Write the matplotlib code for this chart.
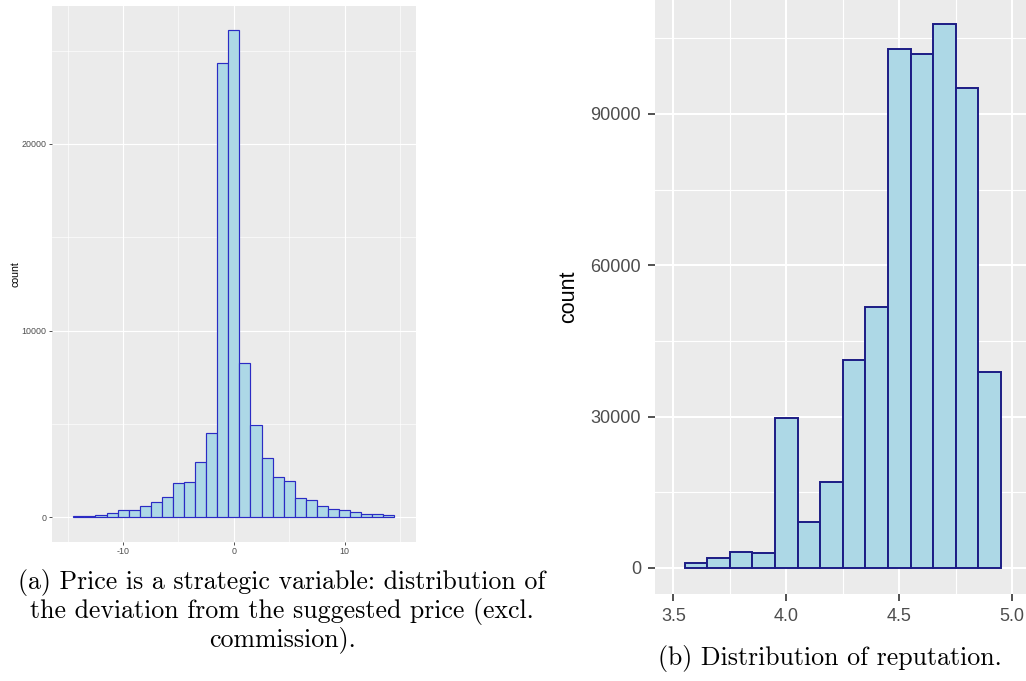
import matplotlib
matplotlib.use("Agg")
import matplotlib.pyplot as plt
from matplotlib.ticker import FixedLocator

# Deviation from suggested price: bin width 1, bins centred on integers
price_centers = list(range(-14, 15))
price_counts = [90, 85, 125, 210, 370, 370, 590, 800, 1075, 1825, 1875, 2980,
                4520, 24320, 26100, 8250, 4960, 3170, 2170, 1960, 1060, 905,
                590, 435, 372, 265, 170, 160, 105]

# Seller reputation: bin width 0.1
rep_centers = [3.6, 3.7, 3.8, 3.9, 4.0, 4.1, 4.2, 4.3, 4.4, 4.5, 4.6, 4.7, 4.8, 4.9]
rep_counts = [880, 2050, 3250, 2930, 29780, 9100, 17100, 41300, 51790,
              102800, 101930, 107720, 95100, 38920]

price_xticks = [-10, 0, 10]
price_xminor = [-15, -5, 5, 15]
price_yticks = [0, 10000, 20000]
price_yminor = [5000, 15000, 25000]

rep_xticks = [3.5, 4.0, 4.5, 5.0]
rep_xminor = [3.75, 4.25, 4.75]
rep_yticks = [0, 30000, 60000, 90000]
rep_yminor = [15000, 45000, 75000, 105000]

caption_a = ["(a) Price is a strategic variable: distribution of",
             "the deviation from the suggested price (excl.",
             "commission)."]
caption_b = "(b) Distribution of reputation."

W, H = 1026, 681
fig = plt.figure(figsize=(W / 100, H / 100), dpi=100)
fig.patch.set_facecolor("white")

SANS = ["Liberation Sans", "DejaVu Sans"]
SERIF = ["cmr10", "DejaVu Serif"]


def px_axes(x0, y0, x1, y1):
    """Axes from pixel box (left, top, right, bottom)."""
    return fig.add_axes([x0 / W, 1 - y1 / H, (x1 - x0) / W, (y1 - y0) / H])


def gg_style(ax, xt, xm, yt, ym, major_lw, minor_lw, fs, tick_len, tick_w, pad):
    ax.set_facecolor("#EBEBEB")
    for s in ax.spines.values():
        s.set_visible(False)
    ax.xaxis.set_major_locator(FixedLocator(xt))
    ax.xaxis.set_minor_locator(FixedLocator(xm))
    ax.yaxis.set_major_locator(FixedLocator(yt))
    ax.yaxis.set_minor_locator(FixedLocator(ym))
    ax.set_xticklabels([f"{v:g}" if isinstance(v, int) else f"{v:.1f}" for v in xt],
                       fontfamily=SANS)
    ax.set_yticklabels([str(v) for v in yt], fontfamily=SANS)
    ax.grid(True, which="major", color="white", linewidth=major_lw)
    ax.grid(True, which="minor", color="white", linewidth=minor_lw)
    ax.set_axisbelow(True)
    ax.tick_params(which="major", length=tick_len, width=tick_w, color="#333333",
                   labelcolor="#4D4D4D", labelsize=fs, pad=pad)
    ax.tick_params(which="minor", length=0)


# ---- left panel: price deviation ----
ax1 = px_axes(51.7, 5.7, 416, 541.7)
ax1.bar(price_centers, price_counts, width=1.0, color="#ADD8E6",
        edgecolor="#2B2BC4", linewidth=0.85, zorder=2)
gg_style(ax1, price_xticks, price_xminor, price_yticks, price_yminor,
         major_lw=0.8, minor_lw=0.45, fs=6.4, tick_len=2.5, tick_w=0.6, pad=1.5)
pmax = max(price_counts)
ax1.set_xlim(-16.45, 16.45)
ax1.set_ylim(-0.05 * pmax, 1.05 * pmax)
ax1.set_ylabel("count", fontsize=7.6, fontfamily=SANS, color="black")
ax1.yaxis.set_label_coords(-0.087, 0.5)

# ---- right panel: reputation ----
ax2 = px_axes(655, 0, 1026, 594)
ax2.bar(rep_centers, rep_counts, width=0.1, color="#ADD8E6",
        edgecolor="#1C1C85", linewidth=1.4, zorder=2)
gg_style(ax2, rep_xticks, rep_xminor, rep_yticks, rep_yminor,
         major_lw=1.5, minor_lw=0.8, fs=13, tick_len=5, tick_w=1.2, pad=5)
rmax = max(rep_counts)
ax2.set_xlim(3.419, 5.061)
ax2.set_ylim(-0.048 * rmax, 1.045 * rmax)
ax2.set_ylabel("count", fontsize=15.5, fontfamily=SANS, color="black")
ax2.yaxis.set_label_coords(-0.205, 0.5)

# ---- captions ----
for text, yc in zip(caption_a, [583, 612, 640]):
    fig.text(282 / W, 1 - yc / H, text, ha="center", va="center",
             fontsize=18.6, fontfamily=SERIF, color="black")
fig.text(829.5 / W, 1 - 659 / H, caption_b, ha="center", va="center",
         fontsize=18.6, fontfamily=SERIF, color="black")

fig.savefig("out.png", dpi=100, facecolor="white")
